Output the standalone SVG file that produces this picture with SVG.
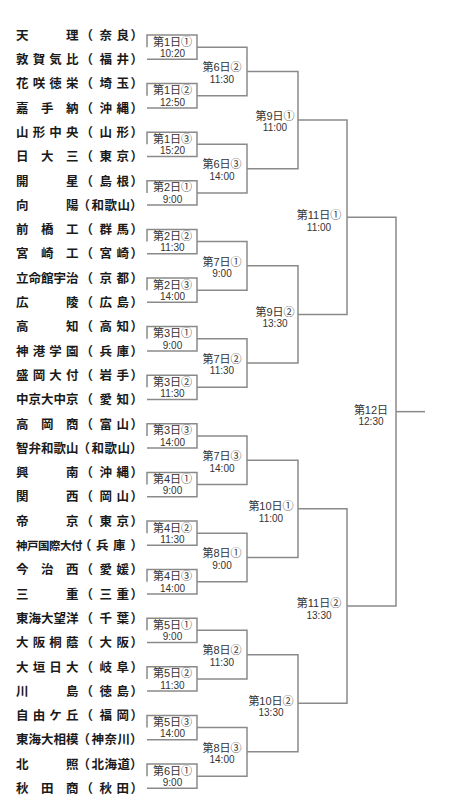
<svg xmlns="http://www.w3.org/2000/svg" width="458" height="800" viewBox="0 0 458 800">
<style>
.t{font-family:"Noto Sans CJK JP","Noto Sans CJK SC",sans-serif;font-size:12.5px;font-weight:bold;fill:#1a1a1a}
.l1{font-family:"Liberation Sans","Noto Sans CJK JP","Noto Sans CJK SC",sans-serif;font-size:11px;fill:#333;text-anchor:middle}
.l2{font-family:"Liberation Sans",Arial,sans-serif;font-size:10px}
.c path{fill:none;stroke:#8a8a8a;stroke-width:1.5}
</style>
<rect width="458" height="800" fill="#fff"/>
<g id="teams">
<g id="team-0"><text class="t" x="16 66 80.5 99.5 116.5 130.5" y="39.7">天理（奈良）</text></g>
<g id="team-1"><text class="t" x="16 32.7 49.3 66 80.5 99.5 116.5 130.5" y="64">敦賀気比（福井）</text></g>
<g id="team-2"><text class="t" x="16 32.7 49.3 66 80.5 99.5 116.5 130.5" y="88.3">花咲徳栄（埼玉）</text></g>
<g id="team-3"><text class="t" x="16 41 66 80.5 99.5 116.5 130.5" y="112.6">嘉手納（沖縄）</text></g>
<g id="team-4"><text class="t" x="16 32.7 49.3 66 80.5 99.5 116.5 130.5" y="136.9">山形中央（山形）</text></g>
<g id="team-5"><text class="t" x="16 41 66 80.5 99.5 116.5 130.5" y="161.2">日大三（東京）</text></g>
<g id="team-6"><text class="t" x="16 66 80.5 99.5 116.5 130.5" y="185.5">開星（島根）</text></g>
<g id="team-7"><text class="t" x="16 66 77.5 91.5 104.5 117.5 130" y="209.8">向陽（和歌山）</text></g>
<g id="team-8"><text class="t" x="16 41 66 80.5 99.5 116.5 130.5" y="234.1">前橋工（群馬）</text></g>
<g id="team-9"><text class="t" x="16 41 66 80.5 99.5 116.5 130.5" y="258.4">宮崎工（宮崎）</text></g>
<g id="team-10"><text class="t" x="16 28.5 41 53.5 66 80.5 99.5 116.5 130.5" y="282.7">立命館宇治（京都）</text></g>
<g id="team-11"><text class="t" x="16 66 80.5 99.5 116.5 130.5" y="307">広陵（広島）</text></g>
<g id="team-12"><text class="t" x="16 66 80.5 99.5 116.5 130.5" y="331.3">高知（高知）</text></g>
<g id="team-13"><text class="t" x="16 32.7 49.3 66 80.5 99.5 116.5 130.5" y="355.6">神港学園（兵庫）</text></g>
<g id="team-14"><text class="t" x="16 32.7 49.3 66 80.5 99.5 116.5 130.5" y="379.9">盛岡大付（岩手）</text></g>
<g id="team-15"><text class="t" x="16 28.5 41 53.5 66 80.5 99.5 116.5 130.5" y="404.2">中京大中京（愛知）</text></g>
<g id="team-16"><text class="t" x="16 41 66 80.5 99.5 116.5 130.5" y="428.5">高岡商（富山）</text></g>
<g id="team-17"><text class="t" x="16 28.5 41 53.5 66 77.5 91.5 104.5 117.5 130" y="452.8">智弁和歌山（和歌山）</text></g>
<g id="team-18"><text class="t" x="16 66 80.5 99.5 116.5 130.5" y="477.1">興南（沖縄）</text></g>
<g id="team-19"><text class="t" x="16 66 80.5 99.5 116.5 130.5" y="501.4">関西（岡山）</text></g>
<g id="team-20"><text class="t" x="16 66 80.5 99.5 116.5 130.5" y="525.7">帝京（東京）</text></g>
<g id="team-21"><text class="t" y="550"><tspan x="16 27 38 49 60 71" style="font-size:11.5px">神戸国際大付</tspan><tspan x="79 96 113 130.5">（兵庫）</tspan></text></g>
<g id="team-22"><text class="t" x="16 41 66 80.5 99.5 116.5 130.5" y="574.3">今治西（愛媛）</text></g>
<g id="team-23"><text class="t" x="16 66 80.5 99.5 116.5 130.5" y="598.6">三重（三重）</text></g>
<g id="team-24"><text class="t" x="16 28.5 41 53.5 66 80.5 99.5 116.5 130.5" y="622.9">東海大望洋（千葉）</text></g>
<g id="team-25"><text class="t" x="16 32.7 49.3 66 80.5 99.5 116.5 130.5" y="647.2">大阪桐蔭（大阪）</text></g>
<g id="team-26"><text class="t" x="16 32.7 49.3 66 80.5 99.5 116.5 130.5" y="671.5">大垣日大（岐阜）</text></g>
<g id="team-27"><text class="t" x="16 66 80.5 99.5 116.5 130.5" y="695.8">川島（徳島）</text></g>
<g id="team-28"><text class="t" x="16 32.7 49.3 66 80.5 99.5 116.5 130.5" y="720.1">自由ケ丘（福岡）</text></g>
<g id="team-29"><text class="t" x="16 28.5 41 53.5 66 77.5 91.5 104.5 117.5 130" y="744.4">東海大相模（神奈川）</text></g>
<g id="team-30"><text class="t" x="16 66 77.5 91.5 104.5 117.5 130" y="768.7">北照（北海道）</text></g>
<g id="team-31"><text class="t" x="16 41 66 80.5 99.5 116.5 130.5" y="793">秋田商（秋田）</text></g>
</g>
<g id="connectors" class="c">
<path d="M147 47.15V35H197V59.3H147"/>
<path d="M147 95.75V83.6H197V107.9H147"/>
<path d="M147 144.35V132.2H197V156.5H147"/>
<path d="M147 192.95V180.8H197V205.1H147"/>
<path d="M147 241.55V229.4H197V253.7H147"/>
<path d="M147 290.15V278H197V302.3H147"/>
<path d="M147 338.75V326.6H197V350.9H147"/>
<path d="M147 387.35V375.2H197V399.5H147"/>
<path d="M147 435.95V423.8H197V448.1H147"/>
<path d="M147 484.55V472.4H197V496.7H147"/>
<path d="M147 533.15V521H197V545.3H147"/>
<path d="M147 581.75V569.6H197V593.9H147"/>
<path d="M147 630.35V618.2H197V642.5H147"/>
<path d="M147 678.95V666.8H197V691.1H147"/>
<path d="M147 727.55V715.4H197V739.7H147"/>
<path d="M147 776.15V764H197V788.3H147"/>
<path d="M197 47.15H247V95.75H197"/>
<path d="M197 144.35H247V192.95H197"/>
<path d="M197 241.55H247V290.15H197"/>
<path d="M197 338.75H247V387.35H197"/>
<path d="M197 435.95H247V484.55H197"/>
<path d="M197 533.15H247V581.75H197"/>
<path d="M197 630.35H247V678.95H197"/>
<path d="M197 727.55H247V776.15H197"/>
<path d="M247 71.45H298V168.65H247"/>
<path d="M247 265.85H298V363.05H247"/>
<path d="M247 460.25H298V557.45H247"/>
<path d="M247 654.65H298V751.85H247"/>
<path d="M298 120.05H347V314.45H298"/>
<path d="M298 508.85H347V703.25H298"/>
<path d="M347 217.25H396V606.05H347"/>
<path d="M396 411.65H425"/>
</g>
<g id="matches">
<g id="m1-1"><text class="l1" x="172.5" y="45.55">第1日①<tspan class="l2" x="172.5" y="57.05">10:20</tspan></text></g>
<g id="m1-2"><text class="l1" x="172.5" y="94.15">第1日②<tspan class="l2" x="172.5" y="105.65">12:50</tspan></text></g>
<g id="m1-3"><text class="l1" x="172.5" y="142.75">第1日③<tspan class="l2" x="172.5" y="154.25">15:20</tspan></text></g>
<g id="m1-4"><text class="l1" x="172.5" y="191.35">第2日①<tspan class="l2" x="172.5" y="202.85">9:00</tspan></text></g>
<g id="m1-5"><text class="l1" x="172.5" y="239.95">第2日②<tspan class="l2" x="172.5" y="251.45">11:30</tspan></text></g>
<g id="m1-6"><text class="l1" x="172.5" y="288.55">第2日③<tspan class="l2" x="172.5" y="300.05">14:00</tspan></text></g>
<g id="m1-7"><text class="l1" x="172.5" y="337.15">第3日①<tspan class="l2" x="172.5" y="348.65">9:00</tspan></text></g>
<g id="m1-8"><text class="l1" x="172.5" y="385.75">第3日②<tspan class="l2" x="172.5" y="397.25">11:30</tspan></text></g>
<g id="m1-9"><text class="l1" x="172.5" y="434.35">第3日③<tspan class="l2" x="172.5" y="445.85">14:00</tspan></text></g>
<g id="m1-10"><text class="l1" x="172.5" y="482.95">第4日①<tspan class="l2" x="172.5" y="494.45">9:00</tspan></text></g>
<g id="m1-11"><text class="l1" x="172.5" y="531.55">第4日②<tspan class="l2" x="172.5" y="543.05">11:30</tspan></text></g>
<g id="m1-12"><text class="l1" x="172.5" y="580.15">第4日③<tspan class="l2" x="172.5" y="591.65">14:00</tspan></text></g>
<g id="m1-13"><text class="l1" x="172.5" y="628.75">第5日①<tspan class="l2" x="172.5" y="640.25">9:00</tspan></text></g>
<g id="m1-14"><text class="l1" x="172.5" y="677.35">第5日②<tspan class="l2" x="172.5" y="688.85">11:30</tspan></text></g>
<g id="m1-15"><text class="l1" x="172.5" y="725.95">第5日③<tspan class="l2" x="172.5" y="737.45">14:00</tspan></text></g>
<g id="m1-16"><text class="l1" x="172.5" y="774.55">第6日①<tspan class="l2" x="172.5" y="786.05">9:00</tspan></text></g>
<g id="m2-1"><text class="l1" x="222" y="71.25">第6日②<tspan class="l2" x="222" y="82.75">11:30</tspan></text></g>
<g id="m2-2"><text class="l1" x="222" y="168.45">第6日③<tspan class="l2" x="222" y="179.95">14:00</tspan></text></g>
<g id="m2-3"><text class="l1" x="222" y="265.65">第7日①<tspan class="l2" x="222" y="277.15">9:00</tspan></text></g>
<g id="m2-4"><text class="l1" x="222" y="362.85">第7日②<tspan class="l2" x="222" y="374.35">11:30</tspan></text></g>
<g id="m2-5"><text class="l1" x="222" y="460.05">第7日③<tspan class="l2" x="222" y="471.55">14:00</tspan></text></g>
<g id="m2-6"><text class="l1" x="222" y="557.25">第8日①<tspan class="l2" x="222" y="568.75">9:00</tspan></text></g>
<g id="m2-7"><text class="l1" x="222" y="654.45">第8日②<tspan class="l2" x="222" y="665.95">11:30</tspan></text></g>
<g id="m2-8"><text class="l1" x="222" y="751.65">第8日③<tspan class="l2" x="222" y="763.15">14:00</tspan></text></g>
<g id="m3-1"><text class="l1" x="275" y="119.55">第9日①<tspan class="l2" x="275" y="131.05">11:00</tspan></text></g>
<g id="m3-2"><text class="l1" x="275" y="315.95">第9日②<tspan class="l2" x="275" y="327.45">13:30</tspan></text></g>
<g id="m3-3"><text class="l1" x="271" y="510.35">第10日①<tspan class="l2" x="271" y="521.85">11:00</tspan></text></g>
<g id="m3-4"><text class="l1" x="271" y="704.75">第10日②<tspan class="l2" x="271" y="716.25">13:30</tspan></text></g>
<g id="m4-1"><text class="l1" x="319" y="219.25">第11日①<tspan class="l2" x="319" y="230.75">11:00</tspan></text></g>
<g id="m4-2"><text class="l1" x="319" y="607.05">第11日②<tspan class="l2" x="319" y="618.55">13:30</tspan></text></g>
<g id="final"><text class="l1" x="371" y="413.65">第12日<tspan class="l2" x="371" y="425.15">12:30</tspan></text></g>
</g>
</svg>
